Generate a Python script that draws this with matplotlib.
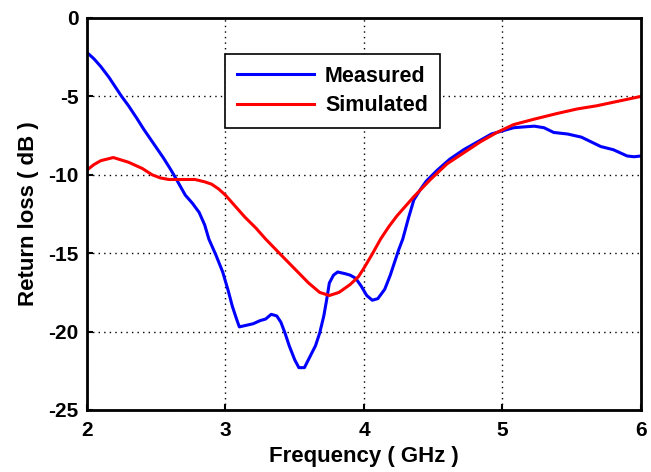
import numpy as np
import matplotlib.pyplot as plt

# values
freq_meas = [2.0, 2.05, 2.1, 2.16, 2.25, 2.3, 2.36, 2.41, 2.48, 2.55, 2.6, 2.64, 2.71, 2.76, 2.81,
             2.85, 2.88, 2.93, 2.98, 3.02, 3.05, 3.08, 3.10, 3.15, 3.20, 3.25, 3.29, 3.33, 3.37,
             3.40, 3.43, 3.46, 3.50, 3.53, 3.57, 3.61, 3.65, 3.68, 3.71, 3.73, 3.75, 3.78, 3.81,
             3.86, 3.90, 3.94, 3.98, 4.02, 4.06, 4.10, 4.15, 4.19, 4.22, 4.25, 4.28, 4.32, 4.36,
             4.41, 4.45, 4.53, 4.62, 4.72, 4.82, 4.92, 5.00, 5.08, 5.15, 5.23, 5.30, 5.37, 5.47,
             5.57, 5.64, 5.71, 5.80, 5.90, 5.95, 6.0]
rl_meas = [-2.2, -2.6, -3.1, -3.8, -5.0, -5.6, -6.4, -7.1, -8.0, -8.9, -9.6, -10.2, -11.3, -11.8, -12.4,
           -13.2, -14.1, -15.1, -16.2, -17.4, -18.4, -19.2, -19.7, -19.6, -19.5, -19.3, -19.2, -18.9, -19.0,
           -19.4, -20.1, -20.9, -21.8, -22.3, -22.3, -21.6, -20.9, -20.1, -19.0, -18.0, -16.9, -16.4, -16.2,
           -16.3, -16.4, -16.6, -17.1, -17.7, -18.0, -17.9, -17.3, -16.4, -15.6, -14.8, -14.1, -12.8, -11.6,
           -10.9, -10.4, -9.7, -9.0, -8.4, -7.9, -7.4, -7.2, -7.0, -6.95, -6.9, -7.0, -7.3, -7.4,
           -7.6, -7.9, -8.2, -8.4, -8.8, -8.85, -8.8]

freq_sim = [2.0, 2.05, 2.1, 2.19, 2.3, 2.4, 2.47, 2.53, 2.59, 2.7, 2.78, 2.85, 2.9, 2.95, 3.0,
            3.07, 3.14, 3.22, 3.29, 3.4, 3.5, 3.6, 3.68, 3.75, 3.82, 3.9, 3.96, 4.0, 4.06,
            4.12, 4.18, 4.24, 4.3, 4.36, 4.48, 4.6, 4.72, 4.84, 4.96, 5.08, 5.23, 5.39, 5.54,
            5.68, 5.84, 6.0]
rl_sim = [-9.7, -9.35, -9.1, -8.9, -9.2, -9.6, -10.0, -10.2, -10.3, -10.3, -10.3, -10.45, -10.6, -10.9, -11.3,
          -12.0, -12.7, -13.4, -14.1, -15.1, -16.0, -16.9, -17.5, -17.7, -17.5, -17.0, -16.5, -15.95, -15.05,
          -14.1, -13.3, -12.6, -12.0, -11.4, -10.3, -9.3, -8.6, -7.9, -7.3, -6.8, -6.45, -6.1, -5.8,
          -5.6, -5.3, -5.0]

plt.rcParams['font.family'] = ['Liberation Sans', 'DejaVu Sans']
plt.rcParams['font.weight'] = 'bold'
plt.rcParams['axes.unicode_minus'] = False

fig = plt.figure(figsize=(6.51, 4.72), dpi=100)
ax = fig.add_axes([0.1336, 0.1314, 0.8510, 0.8305])

ax.plot(freq_meas, rl_meas, color='#0000ff', lw=2.2, label='Measured')
ax.plot(freq_sim, rl_sim, color='#ff0000', lw=2.2, label='Simulated')

ax.set_xlim(2, 6)
ax.set_ylim(-25, 0)
ax.set_xticks(np.arange(2, 7, 1))
ax.set_yticks(np.arange(-25, 1, 5))
ax.grid(True, color='black', linestyle=(0, (1, 3)), linewidth=1.0)
ax.tick_params(direction='in', length=4, width=1.5, labelsize=15, pad=6)
ax.tick_params(axis='x', pad=8)
for s in ax.spines.values():
    s.set_linewidth(2)

ax.set_xlabel('Frequency ( GHz )', fontsize=16, fontweight='bold', labelpad=4)
ax.set_ylabel('Return loss ( dB )', fontsize=16, fontweight='bold', labelpad=7)

leg = ax.legend(loc='upper left', bbox_to_anchor=(0.249, 0.908), fontsize=15.5, fancybox=False,
                framealpha=1, edgecolor='black', handlelength=3.6, borderpad=0.55,
                labelspacing=0.4, handletextpad=0.5, borderaxespad=0)
leg.get_frame().set_linewidth(1.2)

plt.savefig('out.png', dpi=100)
